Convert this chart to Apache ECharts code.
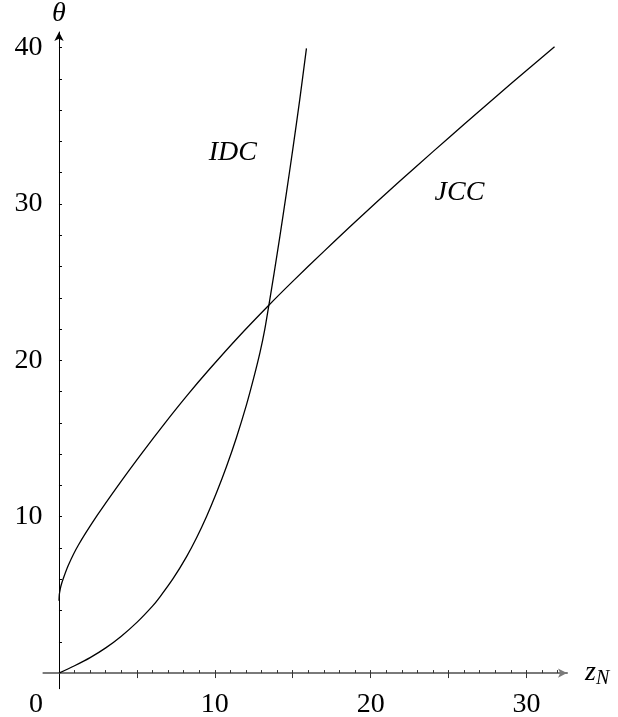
<!DOCTYPE html>
<html>
<head>
<meta charset="utf-8">
<script src="https://cdn.jsdelivr.net/npm/echarts@6/dist/echarts.min.js"></script>
<style>
  html, body { margin: 0; padding: 0; background: #fff; }
  #chart { width: 618px; height: 717px; }
</style>
</head>
<body>
<div id="chart"></div>
<script>
// IDC curve
const idcX = [0, 1, 2, 3, 4, 5, 6, 6.47, 7.33, 8.18, 8.83, 9.47, 10.1, 10.75, 11.39, 12.03, 12.5, 12.9, 13.2, 13.48, 13.8, 14.17, 14.6, 15.0, 15.45, 15.88];
const idcY = [0, 0.47, 0.99, 1.61, 2.36, 3.24, 4.28, 4.86, 6.05, 7.43, 8.65, 10.01, 11.51, 13.21, 15.07, 17.15, 18.89, 20.51, 21.95, 23.6, 25.55, 27.9, 30.74, 33.48, 36.68, 39.95];

// JCC curve
const jccX = [0, 0.02, 0.05, 0.12, 0.26, 0.6, 1.23, 2.45, 3.94, 5.36, 6.8, 8.2, 9.68, 11.5, 13.48, 15, 17, 19, 21.86, 24, 26, 28, 30, 31.8];
const jccY = [4.62, 5.0, 5.2, 5.55, 6.0, 6.9, 8.16, 10.08, 12.2, 14.12, 15.99, 17.73, 19.46, 21.48, 23.54, 25.05, 26.97, 28.85, 31.45, 33.35, 35.1, 36.83, 38.54, 40.05];

// ticks and labels
const xLabels = [0, 10, 20, 30];
const yLabels = [10, 20, 30, 40];
const xMinorTicks = [];
for (let i = 1; i <= 32; i++) xMinorTicks.push(i);
const xMajorTicks = [5, 10, 15, 20, 25, 30];
const yTicks = [];
for (let i = 2; i <= 40; i += 2) yTicks.push(i);

const serif = 'Liberation Serif';

function zip(xs, ys) {
  return xs.map(function (x, i) { return [x, ys[i]]; });
}

let myChart = echarts.init(document.getElementById('chart'));

let option = {
  animation: false,
  grid: { left: 43.4, right: 51, top: 32, bottom: 28.3, containLabel: false, outerBoundsMode: 'none' },
  xAxis: [{
    type: 'value',
    min: -1,
    max: 32.6,
    splitLine: { show: false },
    axisLine: {
      onZero: true,
      symbol: ['none', 'arrow'],
      symbolSize: [7, 9],
      lineStyle: { color: '#7a7a7a', width: 2 }
    },
    axisTick: {
      inside: true,
      length: 3,
      customValues: xMinorTicks,
      lineStyle: { color: '#333' }
    },
    axisLabel: {
      customValues: xLabels,
      margin: 2,
      color: '#000',
      fontFamily: serif,
      fontSize: 28,
      formatter: function (v) {
        return v === 0 ? '{z|0}' : String(v);
      },
      rich: {
        z: { fontFamily: serif, fontSize: 28, color: '#000', padding: [0, 46, 0, 0] }
      }
    },
    name: '{i|z}{s|N}',
    nameLocation: 'end',
    nameGap: 18,
    nameTextStyle: {
      rich: {
        i: { fontFamily: serif, fontStyle: 'italic', fontSize: 28, color: '#000' },
        s: { fontFamily: serif, fontStyle: 'italic', fontSize: 20, color: '#000', padding: [12, 0, 0, 0] }
      }
    }
  }, {
    type: 'value',
    min: -1,
    max: 32.6,
    splitLine: { show: false },
    axisLine: { show: false, onZero: true, onZeroAxisIndex: 0 },
    axisTick: {
      inside: true,
      length: 5,
      customValues: xMajorTicks,
      lineStyle: { color: '#333' }
    },
    axisLabel: { show: false }
  }],
  yAxis: {
    type: 'value',
    min: -1,
    max: 41,
    splitLine: { show: false },
    axisLine: {
      onZero: true,
      symbol: ['none', 'arrow'],
      symbolSize: [7, 9],
      lineStyle: { color: '#000', width: 1 }
    },
    axisTick: {
      inside: true,
      length: 3,
      customValues: yTicks,
      lineStyle: { color: '#000' }
    },
    axisLabel: {
      customValues: yLabels,
      margin: 1,
      color: '#000',
      fontFamily: serif,
      fontSize: 28
    },
    name: 'θ',
    nameLocation: 'end',
    nameGap: 4,
    nameTextStyle: { fontFamily: serif, fontStyle: 'italic', fontSize: 28, color: '#000' }
  },
  series: [{
    name: 'IDC',
    type: 'line',
    data: zip(idcX, idcY),
    smooth: 0.3,
    showSymbol: false,
    lineStyle: { color: '#000', width: 1.3 },
    markPoint: {
      symbol: 'circle',
      symbolSize: 0,
      label: { show: true, position: 'inside', formatter: 'IDC', fontFamily: serif, fontStyle: 'italic', fontSize: 28, color: '#000' },
      data: [{ coord: [11.15, 33.3] }]
    }
  }, {
    name: 'JCC',
    type: 'line',
    data: zip(jccX, jccY),
    smooth: 0.3,
    showSymbol: false,
    lineStyle: { color: '#000', width: 1.3 },
    markPoint: {
      symbol: 'circle',
      symbolSize: 0,
      label: { show: true, position: 'inside', formatter: 'JCC', fontFamily: serif, fontStyle: 'italic', fontSize: 28, color: '#000' },
      data: [{ coord: [25.7, 30.75] }]
    }
  }]
};

myChart.setOption(option);
</script>
</body>
</html>
